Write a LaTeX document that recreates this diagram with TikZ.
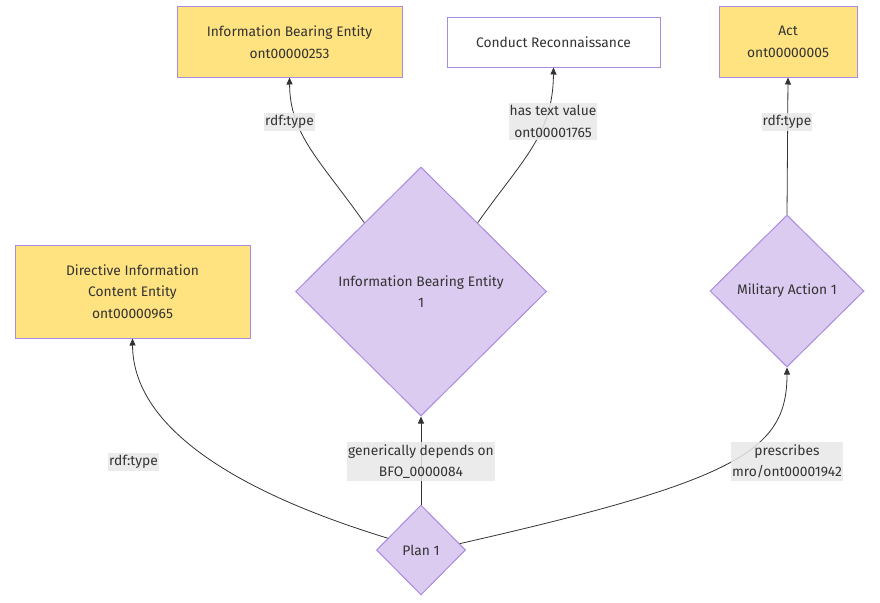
\documentclass[tikz,border=0pt]{standalone}
\usepackage{fontspec}
\setmainfont{Fira Sans}
\usetikzlibrary{shapes.geometric,arrows.meta,calc}
\definecolor{cls}{HTML}{FFE380}
\definecolor{inst}{HTML}{DCCBF0}
\definecolor{strk}{HTML}{A98BE0}
\definecolor{lblbg}{HTML}{E8E8E8}
\definecolor{lin}{HTML}{333333}
\definecolor{txt}{HTML}{333333}
\begin{document}
\begin{tikzpicture}[x=1pt,y=-1pt,
  font=\fontsize{13.8}{21.5}\selectfont, text=txt,
  box/.style={rectangle, draw=strk, line width=1pt, fill=cls, align=center, inner sep=0pt},
  wbox/.style={box, fill=white},
  dia/.style={diamond, draw=strk, fill=inst, line width=1pt, inner sep=0pt, align=center},
  lbl/.style={fill=lblbg, fill opacity=0.85, text opacity=1, align=center, inner xsep=1pt, inner ysep=2.5pt},
  conn/.style={draw=lin, line width=0.8pt, -{Triangle[length=7pt,width=6pt]}}]
\useasboundingbox (0,0) rectangle (880,602);

% nodes
\node[box, minimum width=225, minimum height=70] (ibe) at (289.5,42) {Information Bearing Entity\\ont00000253};
\node[wbox, minimum width=213, minimum height=49] (cr) at (553.5,42.5) {Conduct Reconnaissance};
\node[box, minimum width=138, minimum height=70] (act) at (788,42) {Act\\ont00000005};
\node[box, minimum width=235, minimum height=93] (dice) at (132.5,291.5) {Directive Information\\Content Entity\\ont00000965};
\node[dia, minimum width=251, minimum height=249] (ibe1) at (421,291.5) {Information Bearing Entity\\1};
\node[dia, minimum width=154, minimum height=152] (ma1) at (787,291) {Military Action 1};
\node[dia, minimum width=89, minimum height=90] (plan) at (421,550) {Plan 1};

% connectors
\draw[conn] ($(ibe1.north)!0.45!(ibe1.west)$) .. controls (320,160) and (290,135) .. (ibe.south);
\draw[conn] ($(ibe1.north)!0.45!(ibe1.east)$) .. controls (522,160) and (553,135) .. (cr.south);
\draw[conn] (ma1.north) -- (act.south);
\draw[conn] ($(plan.north)!0.74!(plan.west)$) .. controls (230,490) and (133,425) .. (dice.south);
\draw[conn] (plan.north) -- (ibe1.south);
\draw[conn] ($(plan.north)!0.86!(plan.east)$) .. controls (740,480) and (787,450) .. (ma1.south);

% labels
\node[lbl] (l1) at (289.5,122) {rdf:type};
\node[lbl] (l2) at (553,121.5) {has text value\\ont00001765};
\node[lbl] (l3) at (787,122) {rdf:type};
\node[lbl] (l4) at (133.5,462) {rdf:type};
\node[lbl] (l5) at (421,461.5) {generically depends on\\BFO\_0000084};
\node[lbl] (l6) at (787,461.5) {prescribes\\mro/ont00001942};
\end{tikzpicture}
\end{document}
